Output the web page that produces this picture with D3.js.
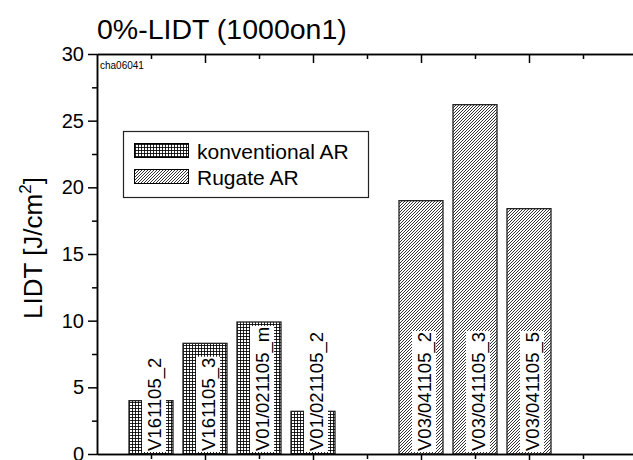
<!DOCTYPE html>
<html>
<head>
<meta charset="utf-8">
<script src="https://cdn.jsdelivr.net/npm/d3@7"></script>
<style>
  html, body { margin: 0; padding: 0; background: #fff; }
  svg { display: block; font-family: Arial, "Liberation Sans", sans-serif; }
</style>
</head>
<body>
<svg id="chart" width="633" height="460"></svg>
<script>
// Sample names, their slot on the x axis, LIDT values and coating type
const samples   = ["V161105_2", "V161105_3", "V01/021105_m", "V01/021105_2",
                   "V03/041105_2", "V03/041105_3", "V03/041105_5"];
const positions = [1, 2, 3, 4, 6, 7, 8];
const lidt      = [4.0, 8.3, 9.9, 3.2, 19.0, 26.2, 18.4];
const coating   = ["konv", "konv", "konv", "konv", "rug", "rug", "rug"];

const seriesKeys   = ["konv", "rug"];
const seriesLabels = ["konventional AR", "Rugate AR"];

const yMajor = [0, 5, 10, 15, 20, 25, 30];
const yMinor = [2.5, 7.5, 12.5, 17.5, 22.5, 27.5];
const xMajor = [2, 4, 6, 8, 10];
const xMinor = [1, 3, 5, 7, 9];

const chartTitle = "0%-LIDT (1000on1)";
const stamp = "cha06041";

const svg = d3.select("#chart");

// plot frame (right edge lies just outside the window)
const plotL = 97, plotR = 637, plotT = 54, plotB = 454;
const x = d3.scaleLinear().domain([0, 10]).range([plotL, plotR]);
const y = d3.scaleLinear().domain([0, 30]).range([plotB, plotT]);
const barW = x(0.815) - x(0);

// fill patterns
const defs = svg.append("defs");
const grid = defs.append("pattern").attr("id", "pat-konv")
  .attr("patternUnits", "userSpaceOnUse").attr("width", 3).attr("height", 3);
grid.append("rect").attr("width", 3).attr("height", 3).attr("fill", "#fff");
grid.append("path").attr("d", "M0,0.5H3M0.5,0V3")
  .attr("stroke", "#000").attr("stroke-width", 0.85).attr("fill", "none");

const diag = defs.append("pattern").attr("id", "pat-rug")
  .attr("patternUnits", "userSpaceOnUse").attr("width", 3).attr("height", 3);
diag.append("rect").attr("width", 3).attr("height", 3).attr("fill", "#fff");
diag.append("path").attr("d", "M-1,1L1,-1M0,3L3,0M2,4L4,2")
  .attr("stroke", "#000").attr("stroke-width", 0.8).attr("fill", "none");

const fillOf = k => `url(#pat-${k})`;

// bars
const bars = samples.map((s, i) => ({ name: s, pos: positions[i], v: lidt[i], k: coating[i] }));

svg.append("g").selectAll("rect").data(bars).join("rect")
  .attr("x", d => x(d.pos) - barW / 2)
  .attr("y", d => y(d.v))
  .attr("width", barW)
  .attr("height", d => y(0) - y(d.v))
  .attr("fill", d => fillOf(d.k))
  .attr("stroke", "#222").attr("stroke-width", 1.3);

// rotated sample names on a white backing
const lab = svg.append("g").selectAll("g").data(bars).join("g")
  .attr("transform", d => `translate(${x(d.pos)},${y(0) - 3}) rotate(-90)`);
lab.append("text")
  .attr("x", 0).attr("y", 9.5)
  .attr("font-size", 18.5).attr("fill", "#000")
  .text(d => d.name);
lab.each(function() {
  const g = d3.select(this);
  const len = g.select("text").node().getComputedTextLength();
  g.insert("rect", "text")
    .attr("x", -1).attr("y", -9)
    .attr("width", len + 2).attr("height", 24)
    .attr("fill", "#fff");
});

// axes
const axW = 1.5;
function styleAxis(g) {
  g.selectAll("path.domain").attr("stroke", "#000").attr("stroke-width", axW);
  g.selectAll(".tick line").attr("stroke", "#000").attr("stroke-width", axW);
  g.selectAll(".tick text").attr("fill", "#000");
}

// left axis, ticks outward
svg.append("g").attr("transform", `translate(${plotL},0)`)
  .call(d3.axisLeft(y).tickValues(yMinor).tickSize(5).tickSizeOuter(0).tickFormat(""))
  .call(styleAxis);
const yAx = svg.append("g").attr("transform", `translate(${plotL},0)`)
  .call(d3.axisLeft(y).tickValues(yMajor).tickSize(9).tickSizeOuter(0).tickPadding(4))
  .call(styleAxis);
yAx.selectAll(".tick text").attr("font-size", 20).attr("font-family", "Arial, 'Liberation Sans', sans-serif");

// bottom axis, ticks outward
svg.append("g").attr("transform", `translate(0,${plotB})`)
  .call(d3.axisBottom(x).tickValues(xMinor).tickSize(5).tickSizeOuter(0).tickFormat(""))
  .call(styleAxis);
svg.append("g").attr("transform", `translate(0,${plotB})`)
  .call(d3.axisBottom(x).tickValues(xMajor).tickSize(9).tickSizeOuter(0).tickFormat(""))
  .call(styleAxis);

// top axis, ticks pointing into the plot
svg.append("g").attr("transform", `translate(0,${plotT})`)
  .call(d3.axisBottom(x).tickValues(xMinor).tickSize(5).tickSizeOuter(0).tickFormat(""))
  .call(styleAxis);
svg.append("g").attr("transform", `translate(0,${plotT})`)
  .call(d3.axisBottom(x).tickValues(xMajor).tickSize(9).tickSizeOuter(0).tickFormat(""))
  .call(styleAxis);

// titles
svg.append("text").attr("x", plotL).attr("y", 39)
  .attr("font-size", 28.5).attr("fill", "#000").text(chartTitle);

svg.append("text").attr("x", plotL + 3).attr("y", 68.5)
  .attr("font-size", 10).attr("fill", "#000").text(stamp);

const yTitle = svg.append("text")
  .attr("transform", `translate(42,248) rotate(-90)`)
  .attr("text-anchor", "middle").attr("font-size", 26).attr("fill", "#000");
yTitle.append("tspan").text("LIDT [J/cm");
yTitle.append("tspan").attr("font-size", 17).attr("dy", -11).text("2");
yTitle.append("tspan").attr("dy", 11).text("]");

// legend
const lg = svg.append("g");
lg.append("rect").attr("x", 123.5).attr("y", 131.5).attr("width", 245).attr("height", 66)
  .attr("fill", "#fff").attr("stroke", "#222").attr("stroke-width", 1.2);
const rowY = [143, 169];
seriesKeys.forEach((k, i) => {
  lg.append("rect").attr("x", 134.5).attr("y", rowY[i] + 0.5).attr("width", 54).attr("height", 14)
    .attr("fill", fillOf(k)).attr("stroke", "#000").attr("stroke-width", 1);
  lg.append("text").attr("x", 197).attr("y", rowY[i] + 15.5)
    .attr("font-size", 21).attr("fill", "#000").text(seriesLabels[i]);
});
</script>
</body>
</html>
